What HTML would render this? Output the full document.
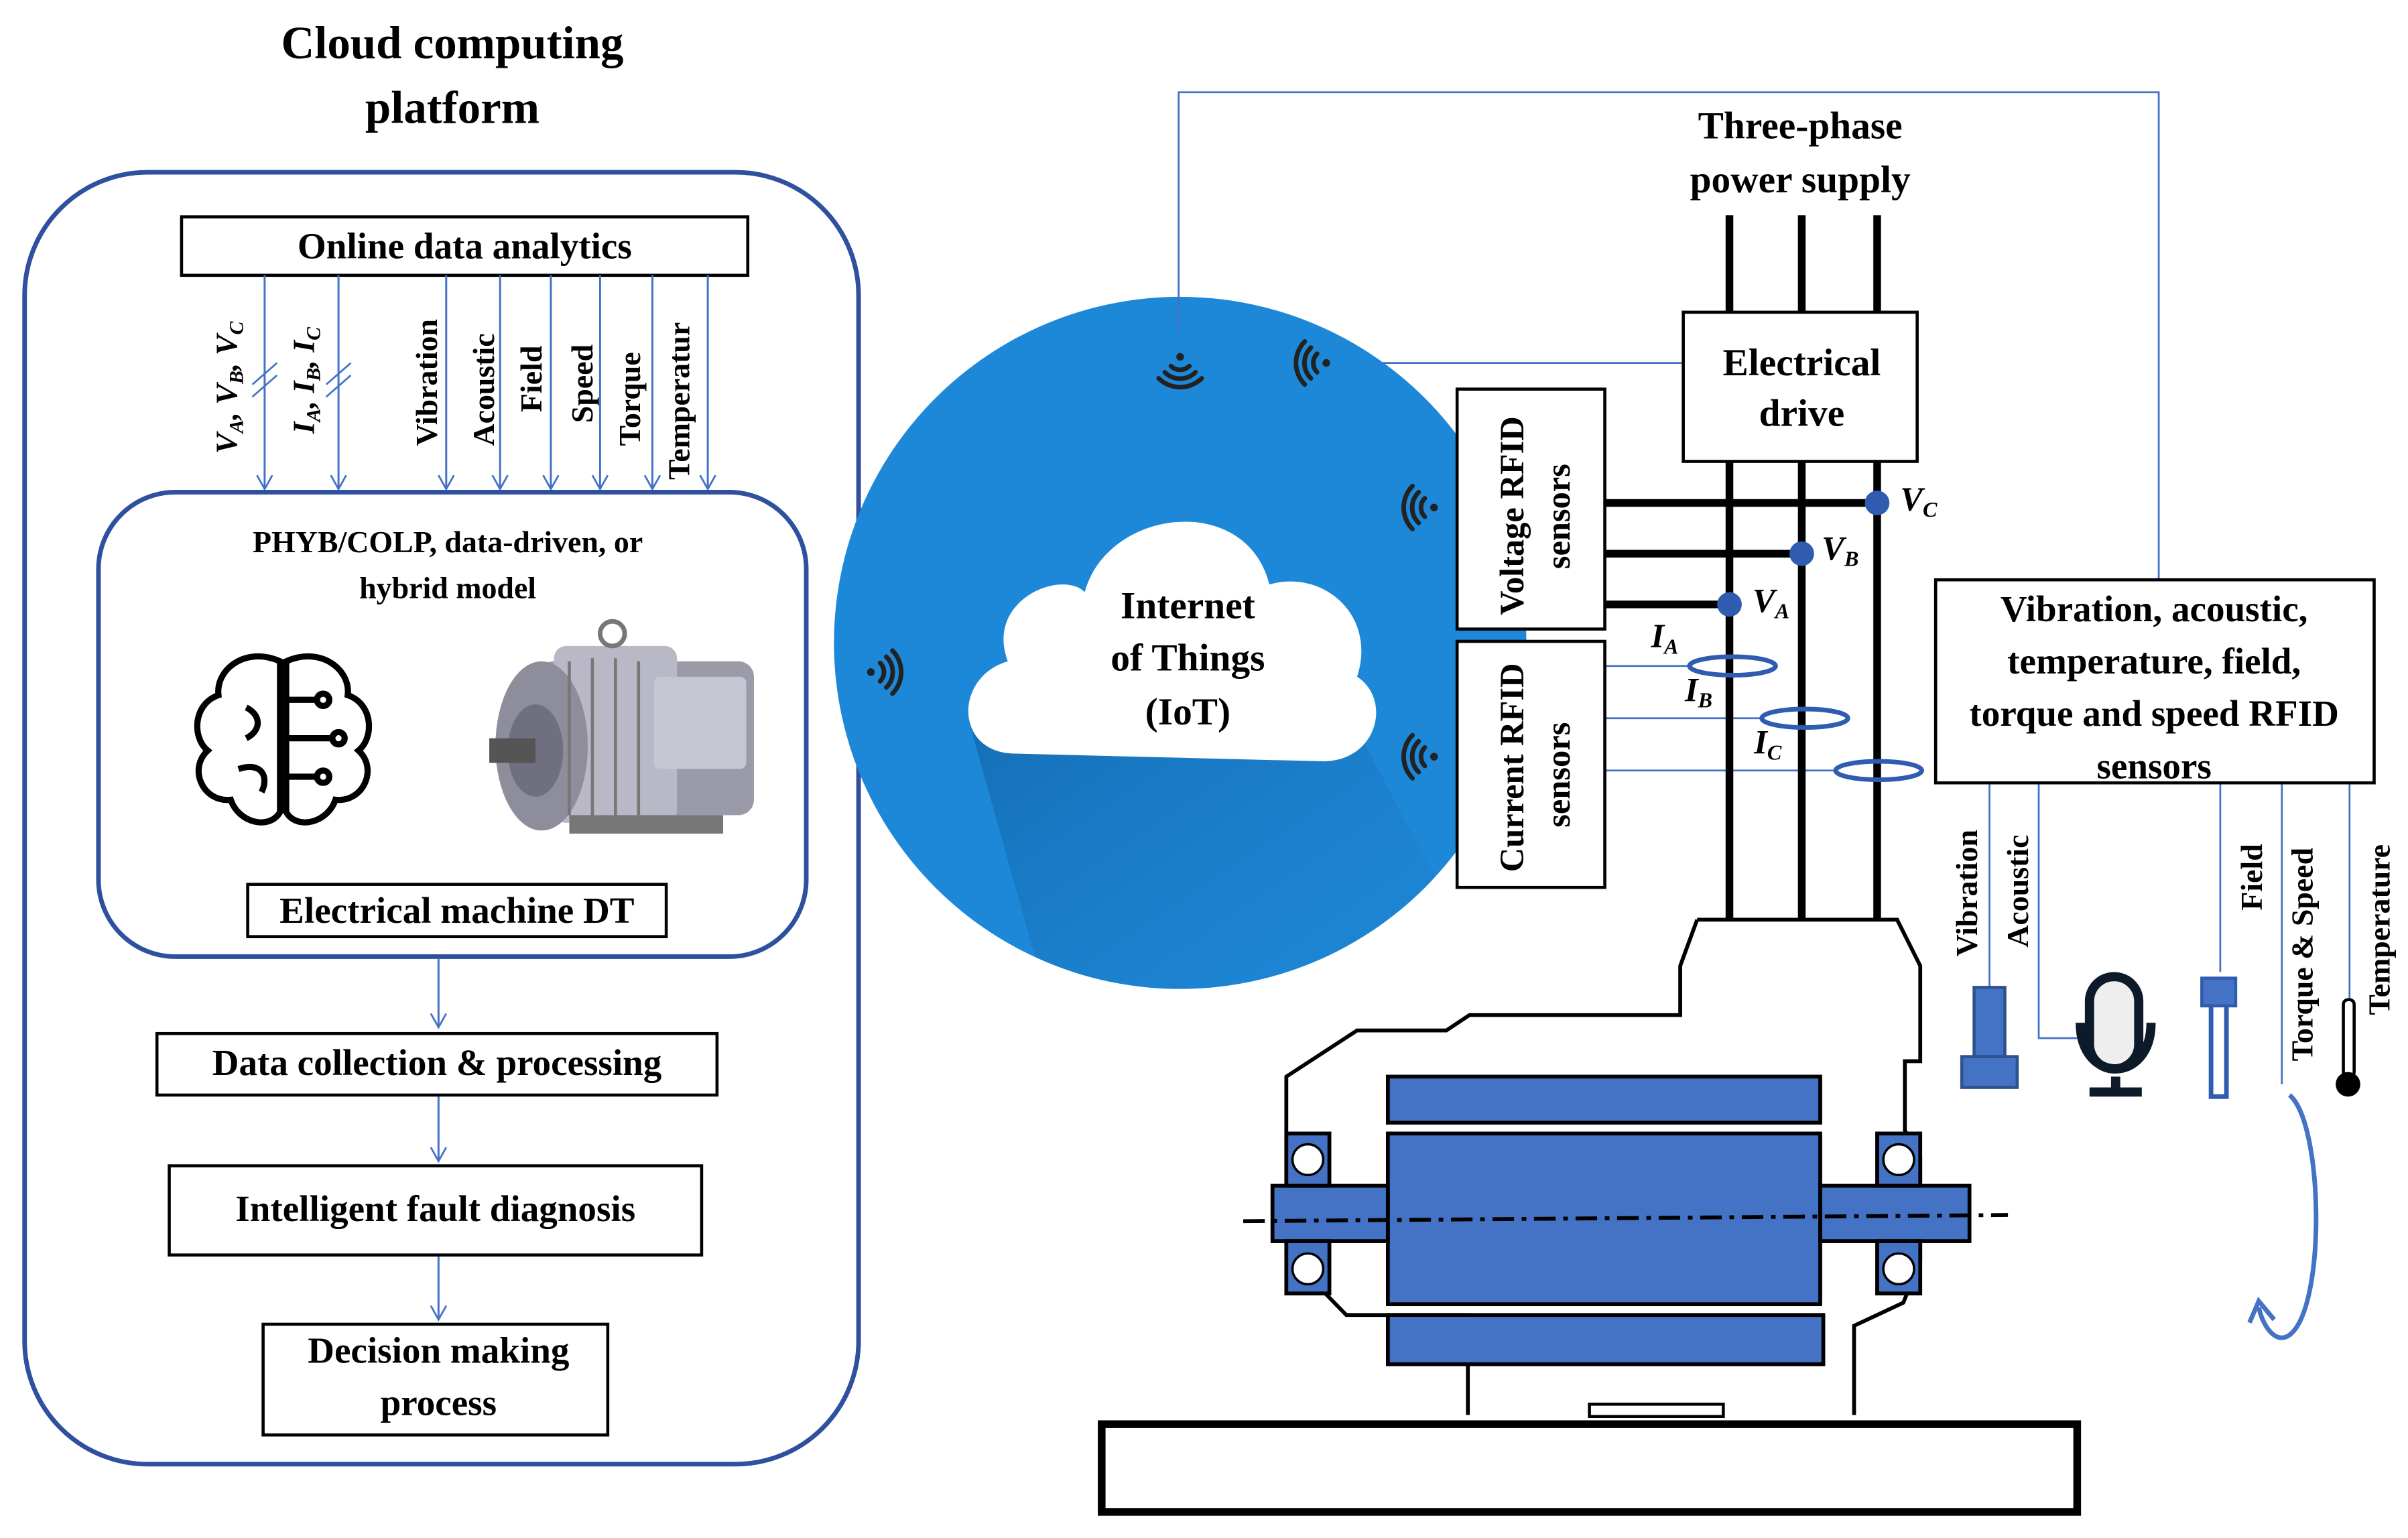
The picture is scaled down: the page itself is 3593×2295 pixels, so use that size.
<!DOCTYPE html>
<html><head><meta charset="utf-8"><style>html,body{margin:0;padding:0;background:#fff}svg{display:block}</style></head>
<body>
<svg xmlns="http://www.w3.org/2000/svg" width="3593" height="2295" viewBox="0 0 1565 1000" preserveAspectRatio="none" font-family="'Liberation Serif', serif">
<defs>
<marker id="ar" markerWidth="12" markerHeight="12" refX="10" refY="6" orient="auto" markerUnits="userSpaceOnUse">
<path d="M1,1 L10,6 L1,11" fill="none" stroke="#4472c4" stroke-width="1.2"/></marker>
<linearGradient id="sh" x1="0" y1="0" x2="1" y2="1"><stop offset="0" stop-color="#0d5a9a" stop-opacity="0.55"/><stop offset="1" stop-color="#1e88d8" stop-opacity="0"/></linearGradient>
<clipPath id="cc"><circle cx="767" cy="418" r="225"/></clipPath>
<g id="wf" fill="none" stroke="#222" stroke-width="3" stroke-linecap="round">
<circle cx="0" cy="0" r="2.5" fill="#222" stroke="none"/>
<path d="M-6,-6 A8.5,8.5 0 0 1 6,-6"/>
<path d="M-10,-10 A14,14 0 0 1 10,-10"/>
<path d="M-14,-14 A20,20 0 0 1 14,-14"/>
</g>
</defs>
<!-- left panel -->
<text x="294" y="38" font-size="30" font-weight="bold" text-anchor="middle">Cloud computing</text>
<text x="294" y="80" font-size="30" font-weight="bold" text-anchor="middle">platform</text>
<rect x="16" y="112" width="542" height="840" rx="80" fill="none" stroke="#2f4f9f" stroke-width="3"/>
<rect x="118" y="141" width="368" height="38" fill="#fff" stroke="#000" stroke-width="2"/>
<text x="302" y="168" font-size="24" font-weight="bold" text-anchor="middle">Online data analytics</text>
<g stroke="#4472c4" stroke-width="1.3" marker-end="url(#ar)">
<line x1="172" y1="179" x2="172" y2="318"/><line x1="220" y1="179" x2="220" y2="318"/>
<line x1="290" y1="179" x2="290" y2="318"/><line x1="325" y1="179" x2="325" y2="318"/>
<line x1="358" y1="179" x2="358" y2="318"/><line x1="390" y1="179" x2="390" y2="318"/>
<line x1="424" y1="179" x2="424" y2="318"/><line x1="460" y1="179" x2="460" y2="318"/>
</g>
<g stroke="#4472c4" stroke-width="1.2">
<line x1="164" y1="250" x2="180" y2="236"/><line x1="164" y1="258" x2="180" y2="244"/>
<line x1="212" y1="250" x2="228" y2="236"/><line x1="212" y1="258" x2="228" y2="244"/>
</g>
<g font-size="20" font-weight="bold">
<text transform="translate(154,295) rotate(-90)" font-style="italic">V<tspan font-size="13" dy="4">A</tspan><tspan dy="-4">, V</tspan><tspan font-size="13" dy="4">B</tspan><tspan dy="-4">, V</tspan><tspan font-size="13" dy="4">C</tspan></text>
<text transform="translate(204,282) rotate(-90)" font-style="italic">I<tspan font-size="13" dy="4">A</tspan><tspan dy="-4">, I</tspan><tspan font-size="13" dy="4">B</tspan><tspan dy="-4">, I</tspan><tspan font-size="13" dy="4">C</tspan></text>
<text transform="translate(284,290) rotate(-90)">Vibration</text>
<text transform="translate(321,290) rotate(-90)">Acoustic</text>
<text transform="translate(352,268) rotate(-90)">Field</text>
<text transform="translate(385,275) rotate(-90)">Speed</text>
<text transform="translate(416,290) rotate(-90)">Torque</text>
<text transform="translate(448,312) rotate(-90)">Temperatur</text>
</g>
<rect x="64" y="320" width="460" height="302" rx="50" fill="none" stroke="#2f4f9f" stroke-width="3"/>
<text x="291" y="359" font-size="20" font-weight="bold" text-anchor="middle">PHYB/COLP, data-driven, or</text>
<text x="291" y="389" font-size="20" font-weight="bold" text-anchor="middle">hybrid model</text>
<!-- brain -->
<g fill="none" stroke="#000" stroke-width="4">
<path d="M182,430 C160,420 140,435 142,452 C125,458 125,480 135,488 C122,500 132,522 150,520 C155,535 175,540 182,528 Z"/>
<path d="M186,430 C208,420 228,435 226,452 C243,458 243,480 233,488 C246,500 236,522 218,520 C213,535 193,540 186,528 Z"/>
<path d="M186,455 H205 M186,480 H215 M186,505 H205 M160,460 C170,465 170,475 160,480 M155,500 C170,495 175,505 170,515"/>
<circle cx="210" cy="455" r="4"/><circle cx="220" cy="480" r="4"/><circle cx="210" cy="505" r="4"/>
</g>
<!-- motor image -->
<g>
<rect x="350" y="430" width="140" height="100" rx="10" fill="#9a9aa8"/>
<rect x="360" y="420" width="80" height="115" rx="8" fill="#b8b8c6"/>
<ellipse cx="352" cy="485" rx="30" ry="55" fill="#8d8d9c"/>
<ellipse cx="348" cy="488" rx="18" ry="30" fill="#6f6f80"/>
<rect x="318" y="480" width="30" height="16" fill="#555"/>
<rect x="425" y="440" width="60" height="60" rx="4" fill="#c6c6d2"/>
<circle cx="398" cy="412" r="8" fill="none" stroke="#777" stroke-width="3"/>
<g stroke="#777" stroke-width="2"><line x1="370" y1="430" x2="370" y2="530"/><line x1="385" y1="428" x2="385" y2="532"/><line x1="400" y1="428" x2="400" y2="532"/><line x1="415" y1="430" x2="415" y2="530"/></g>
<rect x="370" y="530" width="100" height="12" fill="#777"/>
</g>
<rect x="161" y="575" width="272" height="34" fill="#fff" stroke="#000" stroke-width="2"/>
<text x="297" y="600" font-size="24" font-weight="bold" text-anchor="middle">Electrical machine DT</text>
<g stroke="#4472c4" stroke-width="1.3" marker-end="url(#ar)">
<line x1="285" y1="623" x2="285" y2="668"/><line x1="285" y1="712" x2="285" y2="755"/><line x1="285" y1="816" x2="285" y2="858"/>
</g>
<rect x="102" y="672" width="364" height="40" fill="#fff" stroke="#000" stroke-width="2"/>
<text x="284" y="699" font-size="24" font-weight="bold" text-anchor="middle">Data collection &amp; processing</text>
<rect x="110" y="758" width="346" height="58" fill="#fff" stroke="#000" stroke-width="2"/>
<text x="283" y="794" font-size="24" font-weight="bold" text-anchor="middle">Intelligent fault diagnosis</text>
<rect x="171" y="861" width="224" height="72" fill="#fff" stroke="#000" stroke-width="2"/>
<text x="285" y="886" font-size="24" font-weight="bold" text-anchor="middle">Decision making</text>
<text x="285" y="920" font-size="24" font-weight="bold" text-anchor="middle">process</text>
<!-- IoT circle -->
<circle cx="767" cy="418" r="225" fill="#1e88d8"/>
<polygon points="630,470 880,470 1000,700 700,720" fill="url(#sh)" clip-path="url(#cc)"/>
<path d="M660,490 C620,490 620,440 655,430 C640,390 690,370 705,385 C720,330 810,320 825,380 C860,370 895,400 882,440 C905,455 895,495 860,495 Z" fill="#fff"/>
<text x="772" y="402" font-size="25" font-weight="bold" text-anchor="middle">Internet</text>
<text x="772" y="436" font-size="25" font-weight="bold" text-anchor="middle">of Things</text>
<text x="772" y="471" font-size="25" font-weight="bold" text-anchor="middle">(IoT)</text>
<use href="#wf" transform="translate(767,232) rotate(180)"/>
<use href="#wf" transform="translate(862,236) rotate(-90)"/>
<use href="#wf" transform="translate(932,330) rotate(-90)"/>
<use href="#wf" transform="translate(932,492) rotate(-90)"/>
<use href="#wf" transform="translate(566,437) rotate(90)"/>
<!-- blue wires -->
<g fill="none" stroke="#4472c4" stroke-width="1.2">
<polyline points="766,215 766,60 1403,60 1403,377"/>
<line x1="898" y1="236" x2="1094" y2="236"/>
<line x1="1043" y1="433" x2="1100" y2="433"/><line x1="1043" y1="467" x2="1146" y2="467"/><line x1="1043" y1="501" x2="1194" y2="501"/>
<line x1="1293" y1="509" x2="1293" y2="642"/>
<polyline points="1325,509 1325,675 1350,675"/>
<line x1="1443" y1="509" x2="1443" y2="632"/>
<line x1="1483" y1="509" x2="1483" y2="705"/>
<line x1="1527" y1="509" x2="1527" y2="650"/>
</g>
<text x="1170" y="90" font-size="25" font-weight="bold" text-anchor="middle">Three-phase</text>
<text x="1170" y="125" font-size="25" font-weight="bold" text-anchor="middle">power supply</text>
<g stroke="#000" stroke-width="5">
<line x1="1124" y1="140" x2="1124" y2="203"/><line x1="1171" y1="140" x2="1171" y2="203"/><line x1="1220" y1="140" x2="1220" y2="203"/>
<line x1="1124" y1="300" x2="1124" y2="598"/><line x1="1171" y1="300" x2="1171" y2="598"/><line x1="1220" y1="300" x2="1220" y2="598"/>
<line x1="1043" y1="327" x2="1220" y2="327"/><line x1="1043" y1="360" x2="1171" y2="360"/><line x1="1043" y1="393" x2="1124" y2="393"/>
</g>
<rect x="1094" y="203" width="152" height="97" fill="#fff" stroke="#000" stroke-width="2"/>
<text x="1171" y="244" font-size="25" font-weight="bold" text-anchor="middle">Electrical</text>
<text x="1171" y="277" font-size="25" font-weight="bold" text-anchor="middle">drive</text>
<rect x="947" y="253" width="96" height="156" fill="#fff" stroke="#000" stroke-width="2"/>
<text transform="translate(990,400) rotate(-90)" font-size="22" font-weight="bold">Voltage RFID</text>
<text transform="translate(1020,370) rotate(-90)" font-size="22" font-weight="bold">sensors</text>
<rect x="947" y="417" width="96" height="160" fill="#fff" stroke="#000" stroke-width="2"/>
<text transform="translate(990,567) rotate(-90)" font-size="22" font-weight="bold">Current RFID</text>
<text transform="translate(1020,538) rotate(-90)" font-size="22" font-weight="bold">sensors</text>
<g fill="#2f5cb0"><circle cx="1220" cy="327" r="8"/><circle cx="1171" cy="360" r="8"/><circle cx="1124" cy="393" r="8"/></g>
<g font-size="22" font-weight="bold" font-style="italic">
<text x="1235" y="332">V<tspan font-size="14" dy="4">C</tspan></text>
<text x="1184" y="364">V<tspan font-size="14" dy="4">B</tspan></text>
<text x="1139" y="398">V<tspan font-size="14" dy="4">A</tspan></text>
<text x="1073" y="421">I<tspan font-size="14" dy="4">A</tspan></text>
<text x="1095" y="456">I<tspan font-size="14" dy="4">B</tspan></text>
<text x="1140" y="490">I<tspan font-size="14" dy="4">C</tspan></text>
</g>
<g fill="none" stroke="#2f5cb0" stroke-width="3">
<ellipse cx="1126" cy="433" rx="28" ry="6"/><ellipse cx="1173" cy="467" rx="28" ry="6"/><ellipse cx="1221" cy="501" rx="28" ry="6"/>
</g>
<rect x="1258" y="377" width="285" height="132" fill="#fff" stroke="#000" stroke-width="2"/>
<g font-size="24" font-weight="bold" text-anchor="middle">
<text x="1400" y="404">Vibration, acoustic,</text>
<text x="1400" y="438">temperature, field,</text>
<text x="1400" y="472">torque and speed RFID</text>
<text x="1400" y="506">sensors</text>
</g>
<g font-size="20" font-weight="bold">
<text transform="translate(1285,622) rotate(-90)">Vibration</text>
<text transform="translate(1318,616) rotate(-90)">Acoustic</text>
<text transform="translate(1470,592) rotate(-90)">Field</text>
<text transform="translate(1503,690) rotate(-90)">Torque &amp; Speed</text>
<text transform="translate(1553,660) rotate(-90)">Temperature</text>
</g>
<!-- sensor icons -->
<rect x="1283" y="642" width="20" height="45" fill="#4472c4" stroke="#2f528f" stroke-width="2"/>
<rect x="1275" y="687" width="36" height="20" fill="#4472c4" stroke="#2f528f" stroke-width="2"/>
<g fill="none" stroke="#0d1a2a" stroke-width="6">
<rect x="1358" y="635" width="32" height="60" rx="16" fill="#eee"/>
<path d="M1352,665 C1352,705 1398,705 1398,665"/><line x1="1375" y1="700" x2="1375" y2="710"/><line x1="1358" y1="710" x2="1392" y2="710"/>
</g>
<rect x="1437" y="648" width="10" height="65" fill="#fff" stroke="#2f5cb0" stroke-width="3"/>
<rect x="1431" y="636" width="22" height="18" fill="#4472c4" stroke="#2f5cb0" stroke-width="2"/>
<path d="M1488,712 C1510,730 1512,850 1488,868 C1478,875 1470,860 1468,850" fill="none" stroke="#4472c4" stroke-width="3"/>
<path d="M1462,860 L1468,846 L1478,858" fill="none" stroke="#4472c4" stroke-width="3"/>
<rect x="1523" y="650" width="7" height="50" rx="3" fill="#fff" stroke="#000" stroke-width="2"/>
<circle cx="1526" cy="705" r="8" fill="#000"/>
<!-- motor -->
<path d="M1103,598 L1233,598 L1248,628 L1248,690 L1238,690 L1238,735 L1248,752 L1248,820 L1237,847 L1205,862 L1205,920" fill="none" stroke="#000" stroke-width="2.5"/>
<path d="M954,920 L954,855 L875,855 L836,815 L836,700 L882,670 L940,670 L955,660 L1092,660 L1092,628 L1103,598" fill="none" stroke="#000" stroke-width="2.5"/>
<rect x="1033" y="913" width="87" height="8" fill="#fff" stroke="#000" stroke-width="2"/>
<g fill="#4472c4" stroke="#000" stroke-width="2.5">
<rect x="902" y="700" width="281" height="30"/>
<rect x="902" y="737" width="281" height="111"/>
<rect x="902" y="855" width="283" height="32"/>
<rect x="827" y="771" width="75" height="36"/>
<rect x="1183" y="771" width="97" height="36"/>
<rect x="836" y="737" width="28" height="34"/><rect x="836" y="807" width="28" height="34"/>
<rect x="1220" y="737" width="28" height="34"/><rect x="1220" y="807" width="28" height="34"/>
</g>
<g fill="#fff" stroke="#000" stroke-width="1.5">
<circle cx="850" cy="754" r="10"/><circle cx="850" cy="825" r="10"/><circle cx="1234" cy="754" r="10"/><circle cx="1234" cy="825" r="10"/>
</g>
<line x1="808" y1="794" x2="1305" y2="790" stroke="#000" stroke-width="2.5" stroke-dasharray="14,5,3,5"/>
<rect x="716" y="926" width="634" height="57" fill="#fff" stroke="#000" stroke-width="5"/>
</svg>
</body></html>
